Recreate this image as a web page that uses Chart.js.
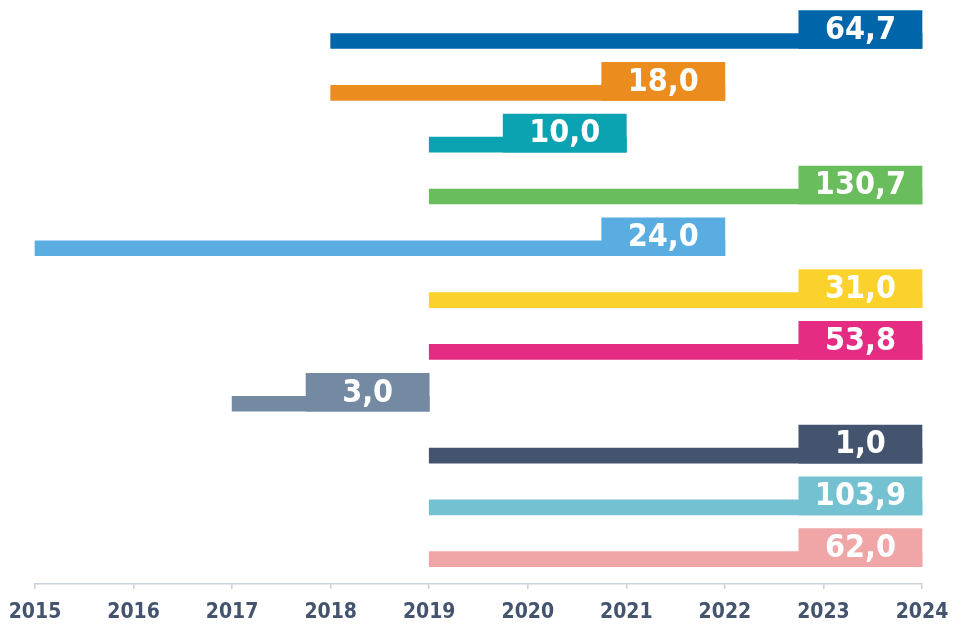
<!DOCTYPE html>
<html>
<head>
<meta charset="utf-8">
<script src="https://cdn.jsdelivr.net/npm/chart.js@4"></script>
<style>
  html, body { margin: 0; padding: 0; background: #fff; }
  #wrap { width: 953px; height: 624px; }
</style>
</head>
<body>
<div id="wrap"><canvas id="chart"></canvas></div>
<script>
const categories = ['P1', 'P2', 'P3', 'P4', 'P5', 'P6', 'P7', 'P8', 'P9', 'P10', 'P11'];
const startYears = [2018, 2018, 2019, 2019, 2015, 2019, 2019, 2017, 2019, 2019, 2019];
const endYears = [2024, 2022, 2021, 2024, 2022, 2024, 2024, 2019, 2024, 2024, 2024];
const amounts = [64.7, 18.0, 10.0, 130.7, 24.0, 31.0, 53.8, 3.0, 1.0, 103.9, 62.0];
const colors = ['#0066a9', '#eb8d1e', '#0ba2b2', '#6abd5c', '#5aade1', '#fbd22c',
  '#e62b82', '#7489a2', '#45546e', '#74c2d1', '#f0a6a6'];
const yearTicks = [2015, 2016, 2017, 2018, 2019, 2020, 2021, 2022, 2023, 2024];

const BOX_YEARS = 1.25;   // width of the value box, in years
const BOX_H = 38;
const LINE_H = 15;
const BOTTOM_SHIFT = 8.6; // bar bottoms sit a bit below the band centre

// box and thin bar share a bottom edge
const alignBars = {
  id: 'alignBars',
  afterDatasetsUpdate(chart) {
    chart.getDatasetMeta(0).data.forEach(el => { el.y += BOTTOM_SHIFT - LINE_H / 2; });
    chart.getDatasetMeta(1).data.forEach(el => { el.y += BOTTOM_SHIFT - BOX_H / 2; });
  }
};

const boxLabels = {
  id: 'boxLabels',
  afterDatasetsDraw(chart) {
    const ctx = chart.ctx;
    ctx.save();
    ctx.fillStyle = '#ffffff';
    ctx.font = "bold 32px 'DejaVu Sans Condensed', 'DejaVu Sans', sans-serif";
    ctx.textAlign = 'center';
    ctx.textBaseline = 'middle';
    chart.getDatasetMeta(1).data.forEach((el, i) => {
      const txt = amounts[i].toFixed(1).replace('.', ',');
      ctx.fillText(txt, (el.x + el.base) / 2, el.y + 1);
    });
    ctx.restore();
  }
};

new Chart(document.getElementById('chart'), {
  type: 'bar',
  data: {
    labels: categories,
    datasets: [
      {
        data: startYears.map((s, i) => [s, endYears[i]]),
        backgroundColor: colors,
        barThickness: LINE_H,
        grouped: false,
        borderSkipped: false,
        clip: false,
        order: 2
      },
      {
        data: endYears.map(e => [e - BOX_YEARS, e]),
        backgroundColor: colors,
        barThickness: BOX_H,
        grouped: false,
        borderSkipped: false,
        clip: false,
        order: 1
      }
    ]
  },
  options: {
    indexAxis: 'y',
    responsive: true,
    maintainAspectRatio: false,
    animation: false,
    layout: { padding: { left: 35, right: 31, top: 14, bottom: 0 } },
    plugins: {
      legend: { display: false },
      tooltip: { enabled: false }
    },
    scales: {
      y: { display: false },
      x: {
        min: 2015,
        max: 2024,
        afterBuildTicks: scale => { scale.ticks = yearTicks.map(v => ({ value: v })); },
        afterFit: scale => {
          scale.paddingLeft = 0;
          scale.paddingRight = 0;
          scale.height = 40;
        },
        grid: { drawOnChartArea: false, tickLength: 5, color: '#c9d2db', lineWidth: 1.5 },
        border: { color: '#c9d2db', width: 1.5 },
        ticks: {
          padding: 11,
          color: '#45546e',
          maxRotation: 0,
          autoSkip: false,
          font: { family: "'DejaVu Sans Condensed', 'DejaVu Sans', sans-serif", size: 21, weight: 'bold' },
          callback: v => String(v)
        }
      }
    }
  },
  plugins: [alignBars, boxLabels]
});
</script>
</body>
</html>
